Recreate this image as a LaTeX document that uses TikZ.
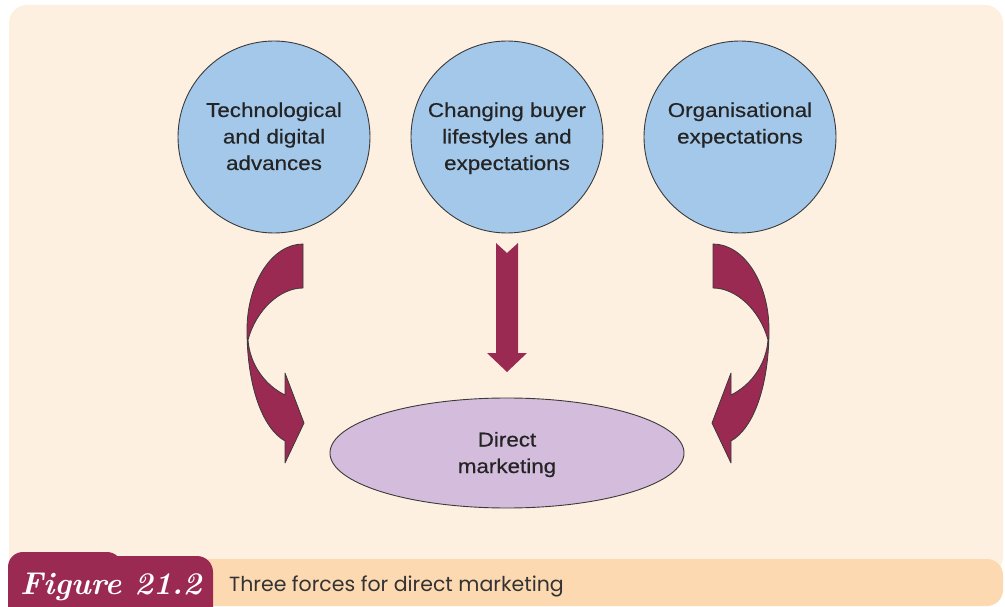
\documentclass[tikz,border=0pt]{standalone}
\usepackage{fontspec}
\usetikzlibrary{shapes.geometric}
\newfontfamily\labelfont[FakeStretch=1.12,FakeBold=0.4]{Liberation Sans}
\newfontfamily\capfont{Poppins}
\definecolor{panelcream}{HTML}{FDF0E1}
\definecolor{bandpeach}{HTML}{FDD9B1}
\definecolor{wine}{HTML}{9B2A53}
\definecolor{skyblue}{HTML}{A4C8EA}
\definecolor{lavender}{HTML}{D4BCDC}
\definecolor{edge}{HTML}{3A3A3A}
\definecolor{inkgrey}{HTML}{333333}
\begin{document}
\begin{tikzpicture}[x=1pt,y=-1pt,
  force/.style={circle, draw=edge, line width=0.9pt, fill=skyblue, minimum size=192pt, inner sep=0pt},
  goal/.style={ellipse, draw=edge, line width=0.9pt, fill=lavender, minimum width=354pt, minimum height=110pt, inner sep=0pt},
  words/.style={font=\labelfont\fontsize{20}{26.5}\selectfont, text=inkgrey!70!black, align=center, inner sep=0pt},
  bentarrow/.style={fill=wine, draw=edge, line width=0.8pt, line join=round},
  straightarrow/.style={fill=wine}]
\useasboundingbox (0,0) rectangle (1005,607);

% background panel and caption band
\fill[panelcream, rounded corners=18pt] (9,5) rectangle (1003,575);
\fill[bandpeach, rounded corners=16pt] (100,559) rectangle (1003,606);
\begin{scope}
  \clip (0,540) rectangle (1005,607);
  \fill[wine, rounded corners=15pt] (8,552) rectangle (122,630);
  \fill[wine, rounded corners=16pt] (76,556) rectangle (213,630);
\end{scope}
\node[anchor=base west, text=white, inner sep=0pt,
      font=\fontsize{31.5}{32}\selectfont\itshape\bfseries] (fig) at (20,594) {Figure 21.2};
\node[anchor=base west, text=inkgrey, inner sep=0pt,
      font=\capfont\fontsize{20.5}{22}\selectfont] (cap) at (229,591) {Three forces for direct marketing};

% the three forces (text anchored at the baseline of its last line)
\node[force] (tech)  at (274,137) {};
\node[force] (buyer) at (507,137) {};
\node[force] (org)   at (740,137) {};
\node[words, anchor=base] (techtxt)  at (274,170) {Technological\\and digital\\advances};
\node[words, anchor=base] (buyertxt) at (507,170) {Changing buyer\\lifestyles and\\expectations};
\node[words, anchor=base] (orgtxt)   at (740,143.5) {Organisational\\expectations};

% the outcome
\node[goal] (dm) at (507,453) {};
\node[words, anchor=base] (dmtxt) at (507,473) {Direct\\marketing};

% straight block arrow from the middle force
\path[straightarrow] (496,243) -- (507,253) -- (518,243) -- (518,353) -- (527,353)
  -- (507,372) -- (487,353) -- (496,353) -- cycle;

% curved block arrow on the left
\path[bentarrow] (303,244) .. controls (272,244) and (247,283) .. (247,330)
  .. controls (247,385) and (262,428) .. (285,441)
  -- (285,463) -- (304,423) -- (285,373) -- (285,395)
  .. controls (265,385) and (250,365) .. (248,340)
  .. controls (256,310) and (280,288) .. (303,288) -- cycle;

% its mirror image on the right
\begin{scope}[xshift=1016pt, xscale=-1]
\path[bentarrow] (303,244) .. controls (272,244) and (247,283) .. (247,330)
  .. controls (247,385) and (262,428) .. (285,441)
  -- (285,463) -- (304,423) -- (285,373) -- (285,395)
  .. controls (265,385) and (250,365) .. (248,340)
  .. controls (256,310) and (280,288) .. (303,288) -- cycle;
\end{scope}
\end{tikzpicture}
\end{document}
